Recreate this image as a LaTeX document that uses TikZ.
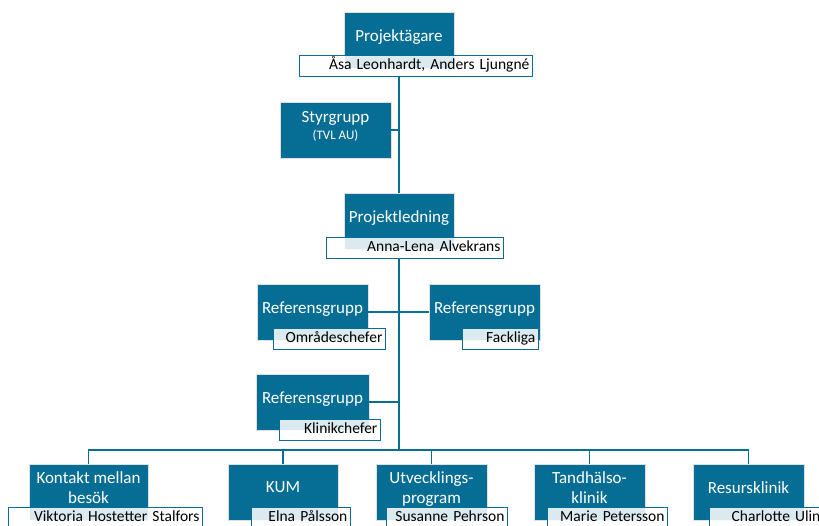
\documentclass[tikz,border=0pt]{standalone}
\usepackage{fontspec}
\setmainfont{Carlito}
\usepackage{xcolor}
\usepackage{tikz}
\definecolor{orgblue}{RGB}{6,110,148}

\begin{document}
\begin{tikzpicture}[x=1pt, y=-1pt,
		unit/.style={draw=gray!25, line width=0.8pt, fill=orgblue, text=white,
			minimum width=#1, minimum height=56pt, inner sep=2pt, align=center,
			text depth=9pt, font=\fontsize{17}{20}\selectfont},
		unit/.default=111pt,
		person/.style={draw=orgblue, line width=0.8pt, fill=white, fill opacity=0.86,
			text opacity=1, text=black, anchor=north west, text width=#1,
			minimum height=21pt, inner xsep=3pt, inner ysep=0pt, align=right,
			text height=11pt, text depth=4pt, font=\fontsize{15.5}{17}\selectfont},
		link/.style={draw=orgblue, line width=1.5pt}]
		\useasboundingbox (0,0) rectangle (819,526);
		\clip (0,0) rectangle (819,526);
		%----------------------------------------------------
		% Owner, steering group and project management
		%----------------------------------------------------
		\node[unit=110pt] (pa) at (399,40) {Projektägare};
		\node[person=227pt] (pan) at (299,55) {Åsa Leonhardt, Anders Ljungné};
		\node[unit] (sg) at (335.5,130) {Styrgrupp\\[-3pt]{\fontsize{13}{15}\selectfont (TVL AU)}};
		\node[unit=110pt] (pl) at (399,221) {Projektledning};
		\node[person=171pt] (pln) at (326,237) {Anna-Lena Alvekrans};

		%----------------------------------------------------
		% Reference groups
		%----------------------------------------------------
		\node[unit] (rl) at (312.5,312) {Referensgrupp};
		\node[person=106pt] (rln) at (273,328) {Områdeschefer};
		\node[unit] (rr) at (484.5,312) {Referensgrupp};
		\node[person=70pt] (rrn) at (462,328) {Fackliga};
		\node[unit=113pt] (rk) at (312.5,402) {Referensgrupp};
		\node[person=95pt] (rkn) at (279,419) {Klinikchefer};

		%----------------------------------------------------
		% Sub-projects on the bottom row
		%----------------------------------------------------
		\node[unit=119pt] (b1) at (88.5,492) {Kontakt mellan\\besök};
		\node[person=188pt] (b1n) at (8,507) {Viktoria Hostetter Stalfors};
		\node[unit=110pt] (b2) at (283,492) {KUM};
		\node[person=93pt] (b2n) at (251,507) {Elna Pålsson};
		\node[unit] (b3) at (431.5,492) {Utvecklings-\\program};
		\node[person=115pt] (b3n) at (386,507) {Susanne Pehrson};
		\node[unit] (b4) at (589.5,492) {Tandhälso-\\klinik};
		\node[person=114pt] (b4n) at (547,507) {Marie Petersson};
		\node[unit] (b5) at (748.5,492) {Resursklinik};
		\node[person=108pt] (b5n) at (709,507) {Charlotte Ulin};

		%----------------------------------------------------
		% Connectors
		%----------------------------------------------------
		\coordinate (bus) at (399,450);
		\draw[link] (pan.south -| pa.center) -- (pl.north);
		\draw[link] (sg.east) -- (sg.east -| pa.center);
		\draw[link] (pln.south -| pl.center) -- (bus);
		\draw[link] (rl.east) -- (rr.west);
		\draw[link] (rk.east) -- (rk.east -| pl.center);
		\draw[link] (b1.north) |- (bus) -| (b5.north);
		\foreach \b in {b2,b3,b4}
			\draw[link] (\b.north) -- (\b.north |- bus);
	\end{tikzpicture}
\end{document}
